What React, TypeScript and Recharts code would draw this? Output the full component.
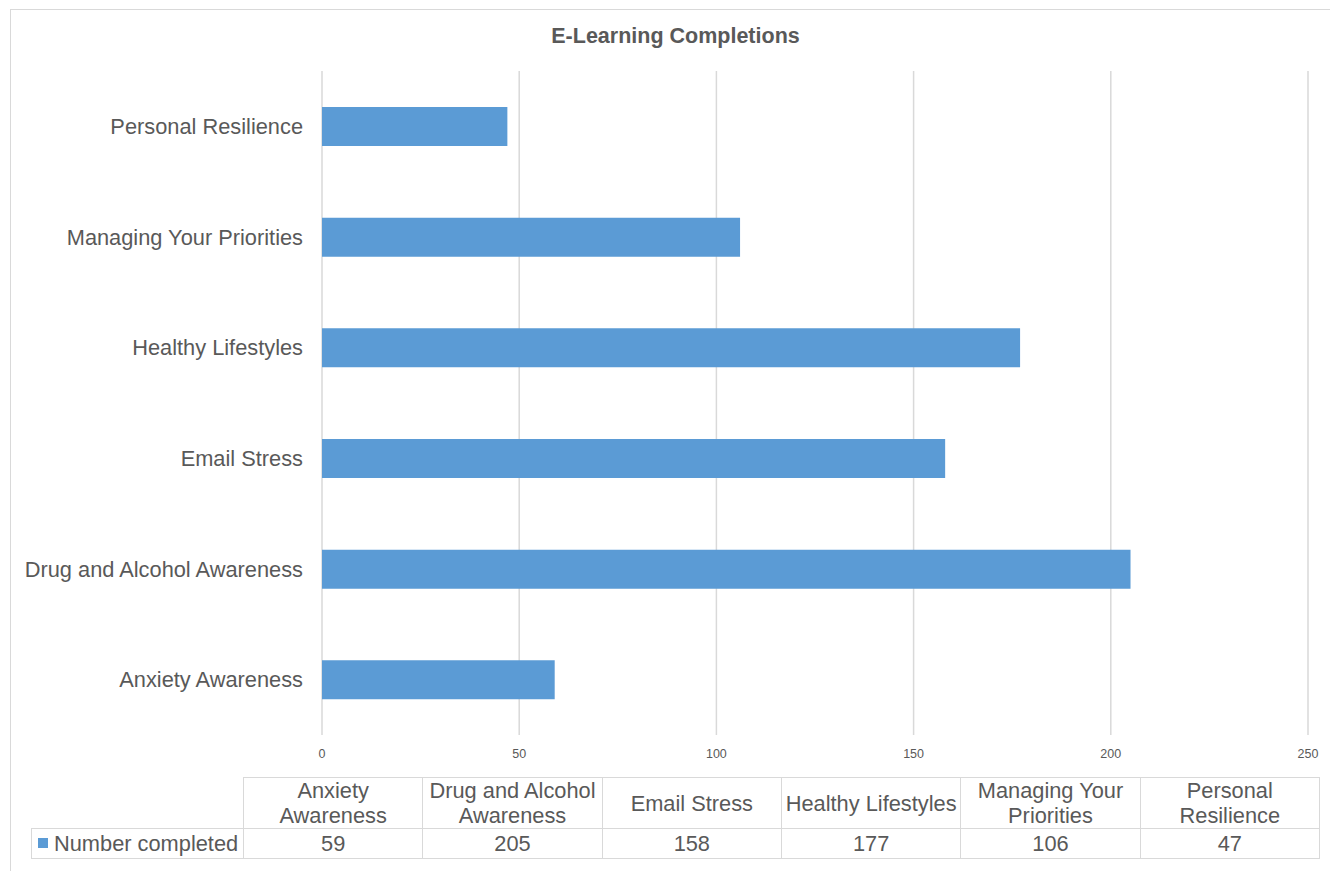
import React from "react";
import { BarChart, Bar, XAxis, YAxis, CartesianGrid } from "recharts";

const categories = [
  "Anxiety Awareness",
  "Drug and Alcohol Awareness",
  "Email Stress",
  "Healthy Lifestyles",
  "Managing Your Priorities",
  "Personal Resilience",
];
const completed = [59, 205, 158, 177, 106, 47];
const tableHeaders = [
  "Anxiety\nAwareness",
  "Drug and Alcohol\nAwareness",
  "Email Stress",
  "Healthy Lifestyles",
  "Managing Your\nPriorities",
  "Personal\nResilience",
];
const xTicks = [0, 50, 100, 150, 200, 250];
const seriesName = "Number completed";
const chartTitle = "E-Learning Completions";

const data = categories.map((c, i) => ({ name: c, value: completed[i] }));

const FONT = "'Liberation Sans', Arial, sans-serif";
const TEXT = "#595959";
const GRID = "#d9d9d9";
const BLUE = "#5B9BD5";

export default function App() {
  const colW = (1319 - 243) / 6;
  const cellBase: React.CSSProperties = {
    border: `1px solid ${GRID}`,
    textAlign: "center",
    padding: 0,
    fontFamily: FONT,
    fontSize: 21.8,
    color: TEXT,
    whiteSpace: "pre-line",
    lineHeight: "25px",
    overflow: "hidden",
  };
  return (
    <div
      style={{
        position: "absolute",
        left: 0,
        top: 0,
        width: 1330,
        height: 871,
        background: "#fff",
        overflow: "hidden",
      }}
    >
      <div
        style={{
          position: "absolute",
          left: 10,
          top: 9,
          width: 1340,
          height: 880,
          border: `1px solid ${GRID}`,
          boxSizing: "border-box",
        }}
      />
      <div
        style={{
          position: "absolute",
          left: 0,
          top: 24,
          width: 1351,
          textAlign: "center",
          fontFamily: FONT,
          fontWeight: "bold",
          fontSize: 21.5,
          color: TEXT,
        }}
      >
        {chartTitle}
      </div>
      <div style={{ position: "absolute", left: 0, top: 0 }}>
        <BarChart
          width={1330}
          height={871}
          data={data}
          layout="vertical"
          margin={{ top: 71, right: 22, bottom: 106, left: 0 }}
          barCategoryGap="32%"
        >
          <CartesianGrid horizontal={false} vertical={true} stroke={GRID} strokeWidth={1.5} />
          <XAxis
            type="number"
            domain={[0, 250]}
            ticks={xTicks}
            axisLine={false}
            tickLine={false}
            tickSize={0}
            tickMargin={14}
            height={30}
            interval={0}
            tick={{ fill: TEXT, fontSize: 12.5, fontFamily: FONT }}
          />
          <YAxis
            type="category"
            dataKey="name"
            reversed
            width={322}
            axisLine={false}
            tickLine={false}
            tickSize={0}
            tickMargin={19}
            interval={0}
            tick={{ fill: TEXT, fontSize: 21.8, fontFamily: FONT }}
          />
          <Bar dataKey="value" fill={BLUE} barSize={39} isAnimationActive={false} />
        </BarChart>
      </div>
      <table
        style={{
          position: "absolute",
          left: 31,
          top: 777,
          borderCollapse: "collapse",
          tableLayout: "fixed",
          width: 1288,
        }}
      >
        <colgroup>
          <col style={{ width: 212 }} />
          {categories.map((c) => (
            <col key={c} style={{ width: colW }} />
          ))}
        </colgroup>
        <tbody>
          <tr style={{ height: 51 }}>
            <td style={{ ...cellBase, border: "none", borderRight: `1px solid ${GRID}`, borderBottom: `1px solid ${GRID}` }} />
            {tableHeaders.map((h) => (
              <td key={h} style={cellBase}>
                {h}
              </td>
            ))}
          </tr>
          <tr style={{ height: 30 }}>
            <td style={{ ...cellBase, textAlign: "left", whiteSpace: "nowrap", paddingLeft: 6 }}>
              <span
                style={{
                  display: "inline-block",
                  width: 10,
                  height: 10,
                  background: BLUE,
                  marginRight: 6,
                  verticalAlign: "middle",
                  position: "relative",
                  top: -2,
                }}
              />
              {seriesName}
            </td>
            {completed.map((v, i) => (
              <td key={i} style={cellBase}>
                {v}
              </td>
            ))}
          </tr>
        </tbody>
      </table>
    </div>
  );
}
